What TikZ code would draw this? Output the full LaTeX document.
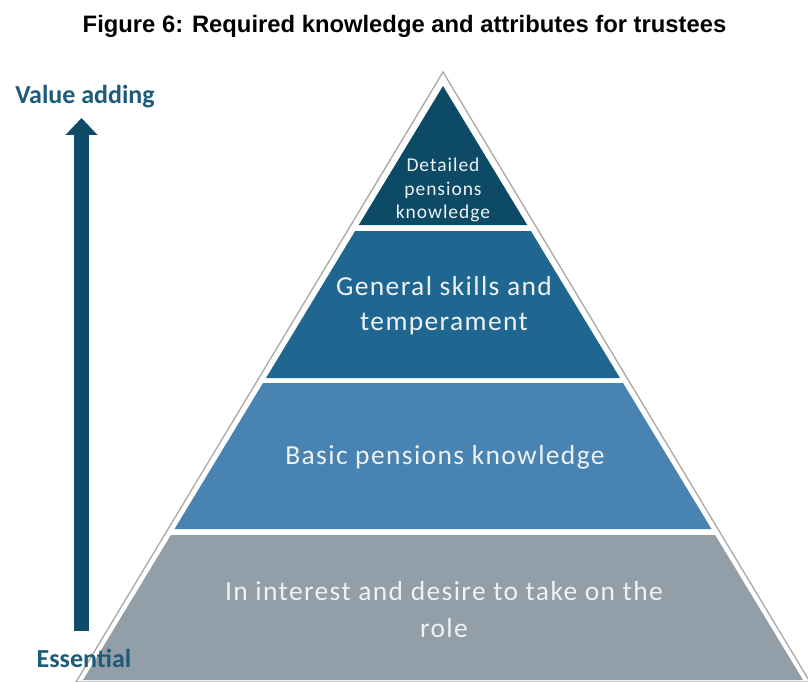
\documentclass[tikz,border=0pt]{standalone}
\usepackage{fontspec}
\setmainfont{Carlito}
\newfontfamily\titlefont{Liberation Sans}
\newfontfamily\lyrfont[LetterSpace=5]{Carlito}
\usetikzlibrary{arrows.meta}
\definecolor{cTop}{HTML}{0C4A66}
\definecolor{cTwo}{HTML}{1F6791}
\definecolor{cThree}{HTML}{4883B2}
\definecolor{cFour}{HTML}{939FA8}
\definecolor{cArrow}{HTML}{0D4B68}
\definecolor{cSide}{HTML}{1E5B7A}
\definecolor{cOut}{HTML}{A8A8A8}
\definecolor{cTxt}{HTML}{EEF2F5}
\tikzset{
  layertext/.style={text=cTxt, align=center, inner sep=0pt},
  sidetext/.style={text=cSide, font=\bfseries\fontsize{26}{30}\selectfont, inner sep=0pt},
}
\newcommand{\lx}[1]{443-0.6061*(#1-86)}
\newcommand{\rx}[1]{443+0.6061*(#1-86)}
\begin{document}
\begin{tikzpicture}[x=1pt,y=-1pt]
\useasboundingbox (0,0) rectangle (808,682);
% title
\node[font=\titlefont\bfseries\fontsize{23.8}{27}\selectfont, inner sep=0pt, anchor=base] (title) at (404.5,33) {Figure 6: Required knowledge and attributes for trustees};
% outline
\draw[cOut, line width=1.3pt] (443,72) -- (76,682) -- (810,682) -- cycle;
% layers
\fill[cTop] (443,86) -- ({\lx{225}},225) -- ({\rx{225}},225) -- cycle;
\fill[cTwo] ({\lx{231}},231) -- ({\lx{378}},378) -- ({\rx{378}},378) -- ({\rx{231}},231) -- cycle;
\fill[cThree] ({\lx{383}},383) -- ({\lx{529}},529) -- ({\rx{529}},529) -- ({\rx{383}},383) -- cycle;
\fill[cFour] ({\lx{535}},535) -- ({\lx{680}},680) -- ({\rx{680}},680) -- ({\rx{535}},535) -- cycle;
% texts
\node[layertext, font=\lyrfont\fontsize{19.5}{23.5}\selectfont] (t1) at (443,190) {Detailed\\pensions\\knowledge};
\node[layertext, font=\lyrfont\fontsize{27.5}{35}\selectfont] (t2) at (444,306) {General skills and\\temperament};
\node[layertext, font=\lyrfont\fontsize{27.5}{35}\selectfont] (t3) at (445,457) {Basic pensions knowledge};
\node[layertext, font=\lyrfont\fontsize{27.5}{37}\selectfont] (t4) at (444,610) {In interest and desire to take on the\\role};
% side
\node[sidetext] (va) at (85,97) {Value adding};
\node[sidetext] (es) at (84,658) {Essential};
\coordinate (abot) at (81.5,631);
\coordinate (atop) at (81.5,118);
\draw[cArrow, line width=15pt, -{Triangle[width=31pt,length=17pt]}] (abot) -- (atop);
\end{tikzpicture}
\end{document}
